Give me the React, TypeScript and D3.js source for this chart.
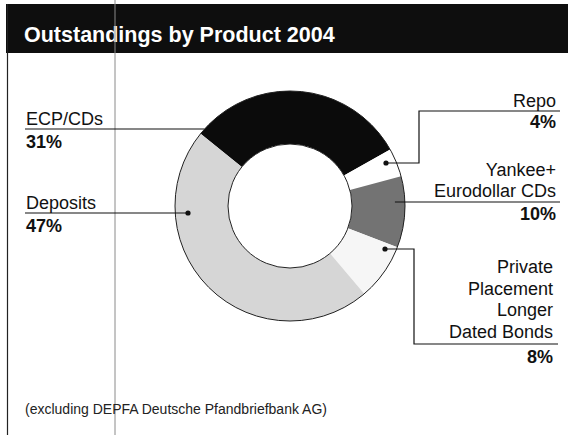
import React from "react";
import * as d3 from "d3";

const categories = ["ECP/CDs", "Repo", "Yankee+ Eurodollar CDs", "Private Placement Longer Dated Bonds", "Deposits"];
const values = [31, 4, 10, 8, 47];
const fills = ["#0b0b0b", "#ffffff", "#737373", "#f6f6f6", "#d6d6d6"];
const title = "Outstandings by Product 2004";
const footnote = "(excluding DEPFA Deutsche Pfandbriefbank AG)";

const W = 568, H = 435;
const cx = 290, cy = 206, rOuter = 115, rInner = 62;
const startDeg = -51;
const FONT = "'Liberation Sans', Arial, Helvetica, sans-serif";
const FS = 18;

export default function App() {
  const rad = (d: number) => (d * Math.PI) / 180;
  const pie = d3
    .pie<number>()
    .sort(null)
    .value((d) => d)
    .startAngle(rad(startDeg))
    .endAngle(rad(startDeg + 360));
  const arcs = pie(values);
  const arcGen = d3.arc<d3.PieArcDatum<number>>().innerRadius(rInner).outerRadius(rOuter);
  const edgeX = (y: number, side: number) => cx + side * Math.sqrt(rOuter * rOuter - (y - cy) * (y - cy));
  const pct = (i: number) => `${values[i]}%`;

  const line = { stroke: "#111", strokeWidth: 1.2, fill: "none" } as const;
  const txt = { fontFamily: FONT, fontSize: FS, fill: "#111" } as const;
  const bold = { ...txt, fontWeight: 700 } as const;

  return (
    <svg width={W} height={H} style={{ position: "absolute", left: 0, top: 0, background: "#fff" }}>
      <rect x={0} y={0} width={W} height={H} fill="#fff" />
      {/* title bar */}
      <rect x={6} y={4} width={W - 6} height={49} fill="#0e0e0e" />
      <text x={24} y={42} fontFamily={FONT} fontSize={21.5} fontWeight={700} fill="#fff">
        {title}
      </text>
      {/* left frame line */}
      <line x1={7.5} y1={4} x2={7.5} y2={H} stroke="#222" strokeWidth={1.2} />
      {/* scan fold line */}
      <line x1={115} y1={0} x2={115} y2={H} stroke="#8a8a8a" strokeWidth={1} />

      {/* donut */}
      <g transform={`translate(${cx},${cy})`}>
        {arcs.map((a, i) => (
          <path key={i} d={arcGen(a) || ""} fill={fills[i]} />
        ))}
        <circle r={rOuter} fill="none" stroke="#222" strokeWidth={1} />
        <circle r={rInner} fill="#fff" stroke="#222" strokeWidth={1} />
      </g>

      {/* ECP/CDs */}
      <text x={26} y={125} {...txt}>{categories[0]}</text>
      <path d={`M25,129H${edgeX(129, -1)}`} {...line} />
      <text x={26} y={148} {...bold}>{pct(0)}</text>

      {/* Deposits */}
      <text x={26} y={209} {...txt}>Deposits</text>
      <path d={`M25,213H188`} {...line} />
      <circle cx={188} cy={213} r={2.6} fill="#111" />
      <text x={26} y={232} {...bold}>{pct(4)}</text>

      {/* Repo */}
      <text x={556} y={107} textAnchor="end" {...txt}>{categories[1]}</text>
      <path d={`M560,111H419V163H386`} {...line} />
      <circle cx={386} cy={163} r={2.6} fill="#111" />
      <text x={556} y={128} textAnchor="end" {...bold}>{pct(1)}</text>

      {/* Yankee */}
      <text x={556} y={176} textAnchor="end" {...txt}>Yankee+</text>
      <text x={556} y={197} textAnchor="end" {...txt}>Eurodollar CDs</text>
      <path d={`M${edgeX(202, 1) - 10},202H560`} {...line} />
      <text x={556} y={220} textAnchor="end" {...bold}>{pct(2)}</text>

      {/* Private placement */}
      {["Private", "Placement", "Longer", "Dated Bonds"].map((t, k) => (
        <text key={k} x={553} y={273 + k * 21.7} textAnchor="end" {...txt}>{t}</text>
      ))}
      <path d={`M385,249H414V344H558`} {...line} />
      <circle cx={385} cy={249} r={2.6} fill="#111" />
      <text x={553} y={363} textAnchor="end" {...bold}>{pct(3)}</text>

      {/* footnote */}
      <text x={25} y={414} fontFamily={FONT} fontSize={14} fill="#222">{footnote}</text>
    </svg>
  );
}
